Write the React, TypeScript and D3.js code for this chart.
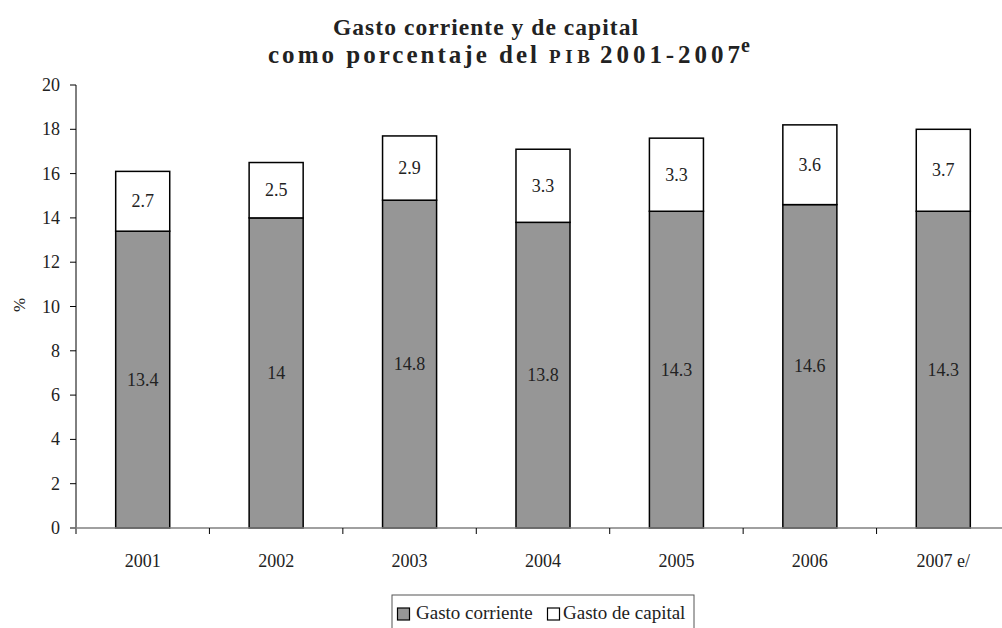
import React from "react";
import * as d3 from "d3";

const categories = ["2001", "2002", "2003", "2004", "2005", "2006", "2007 e/"];
const gastoCorriente = [13.4, 14, 14.8, 13.8, 14.3, 14.6, 14.3];
const gastoCapital = [2.7, 2.5, 2.9, 3.3, 3.3, 3.6, 3.7];
const yTicks = [0, 2, 4, 6, 8, 10, 12, 14, 16, 18, 20];
const seriesNames = ["Gasto corriente", "Gasto de capital"];

const W = 1002;
const H = 628;
const left = 76;
const right = 1010;
const y0 = 528;
const yTop = 85;
const GRAY = "#969696";
const FONT = "Liberation Serif, Times New Roman, serif";
const TXT = "#222";

export default function App() {
  const x = d3.scaleBand<string>().domain(categories).range([left, right]).paddingInner(0).paddingOuter(0);
  const y = d3.scaleLinear().domain([0, 20]).range([y0, yTop]);
  const step = x.step();
  const bw = step * 0.405;

  return (
    <svg width={W} height={H} style={{ position: "absolute", left: 0, top: 0, background: "#fff", fontFamily: FONT }}>
      <g fill={TXT} fontWeight="bold" style={{ fontFamily: FONT }}>
        <text x={333} y={35} fontSize={23.5} textLength={305} lengthAdjust="spacing">
          Gasto corriente y de capital
        </text>
        <text x={268} y={63} fontSize={25} textLength={269} lengthAdjust="spacing">
          como porcentaje del
        </text>
        <text x={549} y={63} fontSize={19} textLength={41} lengthAdjust="spacing">
          PIB
        </text>
        <text x={600} y={63} fontSize={25} textLength={140} lengthAdjust="spacing">
          2001-2007
        </text>
        <text x={741} y={52} fontSize={20}>
          e
        </text>
      </g>

      {/* bars */}
      {categories.map((c, i) => {
        const cx = (x(c) as number) + step / 2;
        const a = gastoCorriente[i];
        const b = gastoCapital[i];
        return (
          <g key={c}>
            <rect x={cx - bw / 2} y={y(a)} width={bw} height={y(0) - y(a)} fill={GRAY} stroke="#000" strokeWidth={1.5} />
            <rect x={cx - bw / 2} y={y(a + b)} width={bw} height={y(a) - y(a + b)} fill="#fff" stroke="#000" strokeWidth={1.5} />
            <text x={cx} y={(y(0) + y(a)) / 2 + 6} textAnchor="middle" fontSize={18} style={{ fontFamily: FONT }} fill={TXT}>
              {String(a)}
            </text>
            <text x={cx} y={(y(a) + y(a + b)) / 2 + 6} textAnchor="middle" fontSize={18} style={{ fontFamily: FONT }} fill={TXT}>
              {String(b)}
            </text>
          </g>
        );
      })}

      {/* y axis */}
      <line x1={left} x2={left} y1={yTop} y2={y0 + 6} stroke="#000" strokeWidth={1} />
      {yTicks.map((t) => (
        <g key={t}>
          <line x1={left - 6} x2={left} y1={y(t)} y2={y(t)} stroke="#000" strokeWidth={1} />
          <text x={60} y={y(t) + 6} textAnchor="end" fontSize={18} style={{ fontFamily: FONT }} fill={TXT}>
            {t}
          </text>
        </g>
      ))}
      <text transform={`translate(25,305) rotate(-90)`} textAnchor="middle" fontSize={17} style={{ fontFamily: FONT }} fill={TXT}>
        %
      </text>

      {/* x axis */}
      <line x1={left - 6} x2={W} y1={y0} y2={y0} stroke="#808080" strokeWidth={1.5} />
      {categories.map((c, i) => (
        <g key={c}>
          {i > 0 && (
            <line x1={x(c) as number} x2={x(c) as number} y1={y0} y2={y0 + 6} stroke="#000" strokeWidth={1} />
          )}
          <text x={(x(c) as number) + step / 2} y={567} textAnchor="middle" fontSize={18} style={{ fontFamily: FONT }} fill={TXT}>
            {c}
          </text>
        </g>
      ))}

      {/* legend */}
      <rect x={392} y={595} width={302} height={40} fill="#fff" stroke="#555" strokeWidth={1} />
      <rect x={397.5} y={608} width={12} height={12} fill={GRAY} stroke="#000" strokeWidth={1.2} />
      <text x={416} y={619} fontSize={19} style={{ fontFamily: FONT }} fill={TXT}>
        {seriesNames[0]}
      </text>
      <rect x={547.5} y={608} width={12} height={12} fill="#fff" stroke="#000" strokeWidth={1.2} />
      <text x={563} y={619} fontSize={19} style={{ fontFamily: FONT }} fill={TXT}>
        {seriesNames[1]}
      </text>
    </svg>
  );
}
